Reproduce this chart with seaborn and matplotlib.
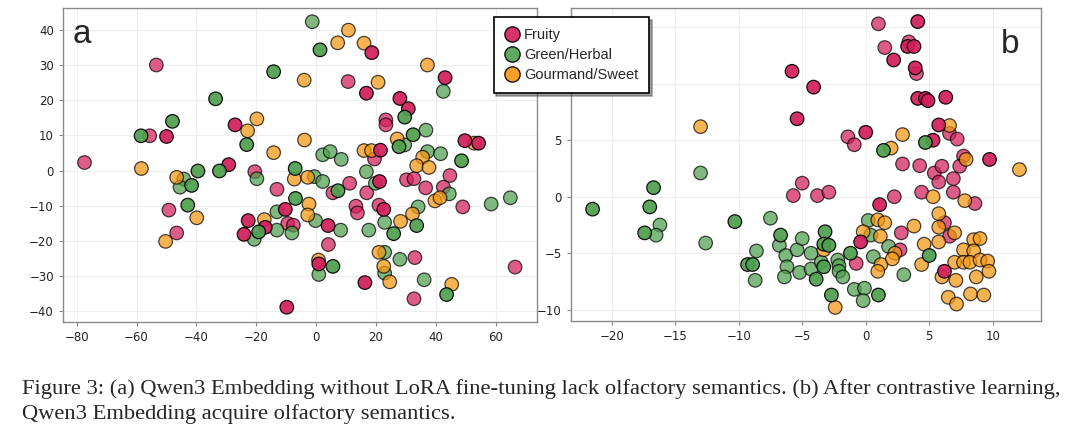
import pandas as pd
import numpy as np
import matplotlib
matplotlib.use('Agg')
import matplotlib.pyplot as plt
from matplotlib.lines import Line2D
import seaborn as sns

# Panel a : embedding without LoRA fine-tuning (t-SNE coords)
a_fruity_x = [-77.4, -53.4, -55.6, -50.0, -27.1, -29.2, -20.5, -13.1, -49.2, -46.6, -22.7, -24.1, -17.0,
              -9.8, 18.6, 10.7, 16.8, 5.6, 11.2, -10.3, -9.5, -7.6, 4.0, 4.1, 0.9, 16.3, 43.1, 28.0, 30.8,
              23.3, 23.3, 21.5, 19.5, 49.7, 54.3, 44.7, 30.2, 32.7, 21.2, 36.6, 42.5, 49.0, 21.0, 22.6,
              33.0, 32.7, 66.5, 16.9, 13.3, 13.8]
a_fruity_y = [2.3, 30.0, 9.9, 9.7, 13.0, 1.7, -0.3, -5.3, -11.2, -17.7, -14.2, -18.1, -16.1,
              -38.8, 33.5, 25.3, 22.0, -6.3, -3.6, -11.0, -15.0, -15.5, -15.6, -21.0, -26.5, -31.8, 26.4, 20.5, 17.6,
              14.4, 13.0, 5.8, 3.3, 8.5, 7.8, -1.4, -2.6, -2.3, -3.1, -4.9, -4.7, -10.3, -9.8, -11.0,
              -24.7, -36.4, -27.4, -6.3, -10.1, -12.0]
a_fruity_tone = ['l', 'l', 'l', 'd', 'd', 'd', 'l', 'l', 'l', 'l', 'd', 'd', 'd',
                 'd', 'd', 'l', 'd', 'l', 'l', 'd', 'l', 'l', 'd', 'l', 'd', 'd', 'd', 'd', 'd',
                 'l', 'l', 'd', 'l', 'd', 'd', 'l', 'l', 'l', 'd', 'l', 'l', 'l', 'l', 'd',
                 'l', 'l', 'l', 'l', 'l', 'l']

a_green_x = [-33.6, -48.0, -58.5, -23.2, -14.2, -44.2, -45.5, -41.6, -39.5, -32.3, -19.8, -42.9, -19.2,
             -20.7, -13.1, -13.1, -1.3, 1.3, -7.0, -0.6, 2.2, 2.2, 4.7, 8.4, 7.3, -6.9, -0.2, -8.1, 8.2,
             5.6, 0.9, 42.5, 29.6, 32.4, 36.7, 27.7, 29.6, 37.2, 41.6, 48.6, 19.8, 16.8, 44.5, 58.5,
             64.9, 34.1, 22.9, 25.9, 33.6, 17.6, 28.0, 22.9, 22.9, 36.1, 43.6]
a_green_y = [20.4, 14.0, 9.9, 7.4, 28.1, -2.4, -4.7, -4.2, -0.1, -0.1, -2.3, -9.8, -17.4,
             -19.5, -11.7, -16.9, 42.3, 34.3, 0.6, -1.7, -3.1, 4.5, 5.4, 3.2, -5.7, -7.9, -14.2, -17.7, -16.9,
             -27.2, -29.5, 22.5, 15.2, 10.2, 11.5, 6.8, 7.3, 5.4, 4.8, 2.8, -3.6, -0.3, -6.6, -9.5,
             -7.7, -10.3, -14.7, -17.9, -15.6, -16.9, -25.2, -23.2, -29.1, -31.0, -35.2]
a_green_tone = ['d', 'd', 'd', 'd', 'd', 'l', 'l', 'd', 'd', 'd', 'l', 'd', 'd',
                'l', 'l', 'l', 'l', 'd', 'd', 'l', 'l', 'l', 'l', 'l', 'd', 'd', 'l', 'l', 'l',
                'd', 'l', 'l', 'd', 'd', 'l', 'd', 'l', 'l', 'l', 'd', 'l', 'l', 'l', 'l',
                'l', 'l', 'l', 'd', 'd', 'l', 'l', 'l', 'l', 'l', 'd']

a_sweet_x = [-19.8, -22.9, -14.2, -58.4, -46.6, -39.9, -50.3, -17.3, 10.8, 7.2, 16.0, -4.0, 20.7,
             -3.9, -7.3, -2.8, -2.4, -2.8, 0.8, 37.2, 27.1, 16.0, 18.5, 52.8, 35.6, 33.6, 37.7,
             39.7, 41.4, 32.2, 28.2, 21.0, 22.6, 24.6, 45.3]
a_sweet_y = [14.7, 11.3, 5.1, 0.6, -1.9, -13.4, -20.1, -13.9, 39.9, 36.3, 36.2, 25.7, 25.1,
             8.7, -2.4, -1.9, -9.5, -12.6, -25.4, 30.0, 9.0, 5.7, 5.7, 7.8, 3.8, 1.4, 0.9,
             -8.6, -7.7, -12.3, -14.4, -23.2, -27.2, -31.6, -32.3]

# Panel b : after contrastive learning
b_fruity_x = [-5.8, -4.1, -5.4, -5.0, -5.7, -3.8, -2.9, 1.1, -0.4, -0.75, 2.25, 4.4, 6.9, 8.6,
              2.8, 6.2, 6.6, 2.7, 6.2, 1.0, 4.1, 3.4, 3.3, 3.8, 1.5, 2.2, 3.9, 4.0, 4.1, 4.7, 4.9,
              6.3, 0.0, -1.4, -0.9, 5.75, 6.6, 7.2, 5.3, 7.7, 9.75, 2.9, 4.25, 5.4, 6.0, 7.4, 6.9, 5.75]
b_fruity_y = [11.1, 9.7, 6.9, 1.2, 0.1, 0.1, 0.4, -0.7, -4.0, -5.9, 0.0, 0.4, 0.4, -0.6,
              -3.2, -2.3, -3.5, -4.7, -6.6, 15.3, 15.5, 13.7, 13.3, 13.3, 13.2, 12.1, 11.4, 10.9, 8.7, 8.7, 8.5,
              8.8, 5.7, 5.3, 4.6, 6.35, 5.6, 5.1, 5.0, 3.6, 3.3, 2.9, 2.75, 2.1, 2.7, 2.7, 1.6, 1.3]
b_fruity_tone = ['d', 'd', 'd', 'l', 'l', 'l', 'l', 'd', 'd', 'l', 'l', 'l', 'l', 'l',
                 'l', 'l', 'l', 'l', 'd', 'l', 'd', 'l', 'd', 'd', 'l', 'd', 'd', 'l', 'd', 'd', 'd',
                 'd', 'd', 'l', 'l', 'd', 'l', 'l', 'd', 'l', 'd', 'l', 'l', 'l', 'l', 'l', 'l', 'l']

b_green_x = [-13.0, -16.7, -17.0, -16.2, -17.4, -16.5, -21.5, -12.6, -10.3, -7.5, -8.6, -9.3, -8.9,
             -8.7, -6.7, -6.8, -6.3, -6.2, -6.4, -5.4, -5.0, -5.2, -4.3, -4.3, -3.2, -3.3, -2.9, 0.2,
             0.4, -1.2, 0.6, -3.9, -3.5, -3.3, -2.2, -2.1, -2.1, -1.8, -0.9, -0.1, -0.2, -2.7, 1.0,
             1.8, 5.0, 3.0, 1.4, 4.7]
b_green_y = [2.1, 0.8, -0.9, -2.5, -3.2, -3.4, -1.1, -4.1, -2.2, -1.9, -4.8, -6.0, -6.0,
             -7.4, -3.4, -4.3, -5.2, -6.2, -7.1, -4.7, -3.7, -6.7, -5.0, -6.4, -3.1, -4.2, -4.3, -2.1,
             -3.4, -5.0, -5.3, -7.3, -5.8, -6.2, -5.6, -6.1, -6.6, -7.1, -8.2, -8.1, -9.2, -8.7, -8.7,
             -4.4, -5.2, -6.9, 4.1, 4.8]
b_green_tone = ['l', 'd', 'd', 'l', 'd', 'l', 'd', 'l', 'd', 'l', 'l', 'd', 'd',
                'l', 'd', 'l', 'l', 'l', 'l', 'l', 'l', 'l', 'l', 'l', 'd', 'd', 'd', 'l',
                'l', 'd', 'l', 'd', 'l', 'd', 'l', 'l', 'l', 'l', 'l', 'l', 'l', 'd', 'd',
                'l', 'd', 'l', 'd', 'd']

b_sweet_x = [-13.0, -3.3, -0.2, 0.95, 1.5, 1.15, 1.2, 0.95, -2.4, 5.3, 7.8, 3.8, 5.75, 5.75, 7.0,
             5.75, 4.6, 4.4, 2.3, 2.1, 8.5, 9.0, 7.7, 8.5, 7.0, 7.7, 8.2, 9.0, 9.6, 9.7, 8.7, 6.0,
             7.1, 6.5, 7.15, 8.25, 9.3, 2.9, 2.0, 6.6, 7.9, 12.1]
b_sweet_y = [6.2, -4.7, -3.1, -2.05, -2.3, -3.5, -6.0, -6.6, -9.8, 0.0, -0.35, -2.6, -1.5, -2.7, -3.2,
             -4.0, -4.2, -6.0, -5.0, -5.5, -3.8, -3.7, -4.7, -4.8, -5.8, -5.8, -5.8, -5.6, -5.7, -6.6, -7.1, -7.1,
             -7.4, -8.9, -9.5, -8.6, -8.7, 5.5, 4.3, 6.3, 3.3, 2.4]

categories = ['Fruity', 'Green/Herbal', 'Gourmand/Sweet']
palette = {'Fruity': '#D21F5B', 'Green/Herbal': '#4E9F4E', 'Gourmand/Sweet': '#F5960F'}
tone_alpha = {'l': 0.72, 'd': 0.93}

# panel b y labels 10 and 15 sit under the legend box in the original
b_ytick_labels = ['\u221210', '\u22125', '0', '5', '', '']


def build_frame(fx, fy, ftone, gx, gy, gtone, sx, sy):
    parts = [
        pd.DataFrame({'x': fx, 'y': fy, 'cat': 'Fruity', 'tone': ftone}),
        pd.DataFrame({'x': gx, 'y': gy, 'cat': 'Green/Herbal', 'tone': gtone}),
        pd.DataFrame({'x': sx, 'y': sy, 'cat': 'Gourmand/Sweet', 'tone': 'l'}),
    ]
    return pd.concat(parts, ignore_index=True)


df_a = build_frame(a_fruity_x, a_fruity_y, a_fruity_tone, a_green_x, a_green_y, a_green_tone,
                   a_sweet_x, a_sweet_y)
df_b = build_frame(b_fruity_x, b_fruity_y, b_fruity_tone, b_green_x, b_green_y, b_green_tone,
                   b_sweet_x, b_sweet_y)

sns.set_style('whitegrid', rc={'grid.color': '#EEEEEE', 'axes.edgecolor': '#8A8A8A',
                               'xtick.bottom': True, 'ytick.left': True,
                               'xtick.color': '#8A8A8A', 'ytick.color': '#8A8A8A'})
plt.rcParams['font.family'] = ['DejaVu Sans']

fig = plt.figure(figsize=(10.8, 4.38), dpi=100)
ax_a = fig.add_axes([0.0583, 0.2648, 0.4389, 0.717])
ax_b = fig.add_axes([0.5287, 0.2671, 0.4352, 0.7146])


def draw_panel(ax, df):
    # light points first, darker ones on top
    for tone in ['l', 'd']:
        sub = df[df['tone'] == tone]
        sns.scatterplot(data=sub, x='x', y='y', hue='cat', palette=palette, hue_order=categories,
                        s=95, edgecolor='black', linewidth=0.9, alpha=tone_alpha[tone],
                        legend=False, ax=ax, zorder=3)
    ax.set_xlabel('')
    ax.set_ylabel('')
    ax.tick_params(labelsize=8.5, labelcolor='#222222', length=3, width=0.8)
    for sp in ax.spines.values():
        sp.set_linewidth(1.0)


draw_panel(ax_a, df_a)
ax_a.set_xlim(-84.6, 73.8)
ax_a.set_ylim(-43.0, 46.2)
ax_a.set_xticks(np.arange(-80, 61, 20))
ax_a.set_yticks(np.arange(-40, 41, 10))
ax_a.text(0.02, 0.915, 'a', transform=ax_a.transAxes, fontsize=24, va='center', ha='left',
          family='Liberation Sans')

draw_panel(ax_b, df_b)
ax_b.set_xlim(-23.2, 13.8)
ax_b.set_ylim(-11.0, 16.7)
ax_b.set_xticks(np.arange(-20, 11, 5))
ax_b.set_yticks(np.arange(-10, 16, 5))
ax_b.set_yticklabels(b_ytick_labels)
ax_b.text(0.935, 0.885, 'b', transform=ax_b.transAxes, fontsize=24, va='center', ha='center',
          family='Liberation Sans')

handles = [Line2D([0], [0], marker='o', linestyle='', markersize=11, markerfacecolor=palette[c],
                  markeredgecolor='black', markeredgewidth=1.0, alpha=0.9, label=c)
           for c in categories]
leg = fig.legend(handles=handles, loc='upper left', bbox_to_anchor=(0.457, 0.961),
                 frameon=True, fancybox=False, shadow=True, framealpha=1,
                 edgecolor='black', prop={'family': 'Liberation Sans', 'size': 10.5},
                 handletextpad=0.35, borderpad=0.75, labelspacing=0.42, handlelength=1.0,
                 borderaxespad=0)
leg.get_frame().set_linewidth(1.2)

fig.text(22 / 1080, 1 - 389 / 438,
         'Figure 3: (a) Qwen3 Embedding without LoRA fine-tuning lack olfactory semantics. '
         '(b) After contrastive learning,',
         family='Liberation Serif', fontsize=16.2, va='center', ha='left')
fig.text(22 / 1080, 1 - 414 / 438, 'Qwen3 Embedding acquire olfactory semantics.',
         family='Liberation Serif', fontsize=16.2, va='center', ha='left')

fig.savefig('out.png', dpi=100)
